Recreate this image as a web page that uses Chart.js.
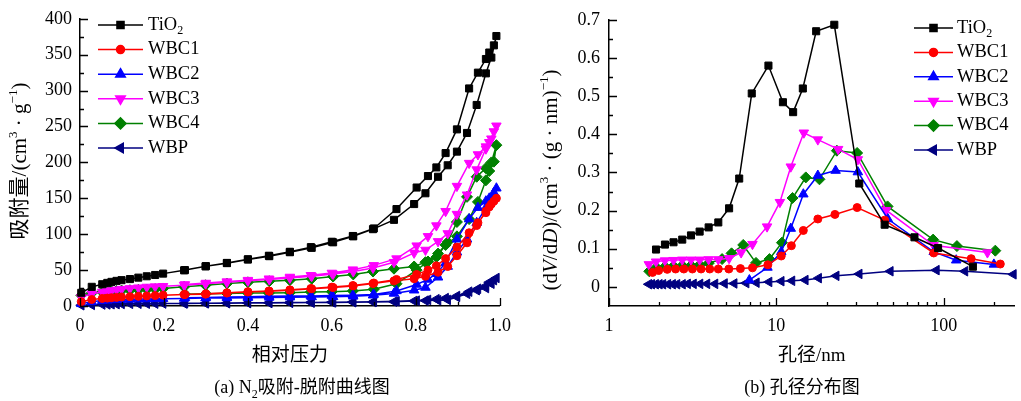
<!DOCTYPE html>
<html>
<head>
<meta charset="utf-8">
<script src="https://cdn.jsdelivr.net/npm/chart.js@4.4.1/dist/chart.umd.min.js"></script>
<style>
html, body { margin: 0; padding: 0; background: #fff; }
#wrap { position: relative; width: 1021px; height: 401px; overflow: hidden; }
#boxA { position: absolute; left: 0; top: 0; }
#boxB { position: absolute; left: 520px; top: 0; }
.cap { position: absolute; top: 377px; font: 18px "Liberation Serif", "Noto Sans CJK SC", serif;
       line-height: 20px; white-space: nowrap; transform: translateX(-50%); color: #000; }
.cap .sub { font-size: 12px; position: relative; top: 5px; }
</style>
</head>
<body>
<div id="wrap">
  <div id="boxA"><canvas id="chartA" width="520" height="401"></canvas></div>
  <div id="boxB"><canvas id="chartB" width="501" height="401"></canvas></div>
  <div class="cap" style="left:302px">(a) N<span class="sub">2</span>吸附-脱附曲线图</div>
  <div class="cap" style="left:802px">(b) 孔径分布图</div>
</div>
<script>
// ---------- (a) N2 吸附-脱附 ----------
const P_ADS = [0.003, 0.028, 0.053, 0.065, 0.075, 0.087, 0.099, 0.119, 0.139, 0.159, 0.179, 0.198, 0.248, 0.299,
               0.35, 0.4, 0.451, 0.5, 0.552, 0.603, 0.651, 0.698, 0.748, 0.796, 0.823, 0.853, 0.876, 0.898,
               0.922, 0.945, 0.967, 0.98, 0.992];
const P_DES = [0.986, 0.975, 0.967, 0.948, 0.927, 0.898, 0.871, 0.849, 0.829, 0.802, 0.754, 0.7, 0.65, 0.6,
               0.55, 0.5, 0.45, 0.4, 0.35, 0.3, 0.25];

const TIO2_ADS = [18.4, 26.7, 30.3, 32.2, 33.6, 35, 36, 37.5, 39.5, 41.4, 43.2, 45.1, 49.7, 55.2, 59.7, 64.8, 69.4,
                  74.9, 81, 88.7, 97, 107, 120, 142, 157, 180, 196, 215, 241, 280, 324, 346, 376];
const TIO2_DES = [363, 353, 344, 325, 303, 246, 213, 193, 181, 165, 135, 108, 97.5, 89.5, 82, 75.5, 70, 65, 60, 55.5, 50];
const WBC1_ADS = [6, 9, 10.5, 11, 11.5, 12, 12.5, 13, 13.5, 14, 14.5, 15, 16, 16.5, 18, 19.5, 20.5, 22, 24, 25.8,
                  28, 31.3, 35, 38, 41.4, 47, 55, 70, 88, 112, 132, 142, 150];
const WBC1_DES = [146, 138, 130, 116, 102, 82, 66, 56, 50, 44, 37, 32, 28.5, 26.3, 24.4, 22.5, 21, 20, 18.5, 17, 16];
const WBC2_ADS = [3, 6, 7.5, 8, 8.5, 8.8, 9, 9.3, 9.6, 9.8, 10, 10.2, 10.5, 11, 11.3, 11.6, 12, 12.3, 12.6, 12.8,
                  13.5, 15, 17.5, 22, 25.8, 40, 55, 75, 93, 116, 137, 150, 164];
const WBC2_DES = [158, 150, 146, 137, 121, 93, 60, 45, 37, 30, 21, 16, 15, 14.5, 14, 13.8, 13.5, 13, 12.5, 12, 11.5];
const WBC3_ADS = [12, 17, 19.5, 20.5, 21.5, 22.5, 23.5, 24.5, 25.5, 26.5, 27, 27.5, 29, 31, 33, 35, 37, 39, 41.5,
                  44.5, 48, 53, 61, 74, 78, 90, 101, 128, 155, 190, 219, 233, 251];
const WBC3_DES = [243, 228, 222, 211, 199, 167, 132, 112, 97, 84, 66, 56.6, 50.6, 46, 42.8, 40.4, 38, 36, 34, 32, 30];
const WBC4_ADS = [15, 18, 19.5, 20, 20.5, 21, 21.5, 22, 22.5, 23, 23.5, 24.4, 26.7, 29, 31.3, 33, 34.5, 36, 38, 41,
                  44, 48, 52, 55, 61, 73, 89, 117, 152, 180, 192, 200, 224];
const WBC4_DES = [201, 188, 175, 145, 121, 97, 85, 68, 62, 50, 31, 23.4, 21, 20, 19.5, 18.5, 18, 18, 17.5, 17, 16.5];
const WBP_ADS = [1, 1.5, 2, 2.2, 2.4, 2.6, 2.8, 3, 3.1, 3.2, 3.3, 3.4, 3.5, 3.7, 3.9, 4.1, 4.3, 4.5, 4.8, 5, 5.3,
                 5.6, 6, 7, 7.5, 8, 8.5, 12.5, 17, 22, 25, 31, 39];
const WBP_DES = [36, 33, 28, 24, 20, 14, 11, 9.5, 8.5, 7.5, 6.5, 6, 5.6, 5.3, 5, 4.8, 4.6, 4.4, 4.2, 4, 3.8];

// ---------- (b) 孔径分布 ----------
const TIO2_D = [1.91, 2.16, 2.43, 2.74, 3.09, 3.48, 3.94, 4.5, 5.22, 6.0, 7.13, 8.97, 10.95, 12.6, 14.4, 17.3, 22.2,
                31.3, 44.4, 66.9, 92.6, 149.5];
const TIO2_PSD = [0.098, 0.111, 0.117, 0.124, 0.135, 0.145, 0.156, 0.169, 0.206, 0.284, 0.507, 0.58, 0.484, 0.458,
                  0.52, 0.67, 0.687, 0.271, 0.163, 0.13, 0.102, 0.053];
const WBC1_D = [1.82, 1.98, 2.23, 2.5, 2.8, 3.15, 3.55, 4.0, 4.5, 5.2, 6.1, 7.2, 8.9, 10.7, 12.3, 14.5, 17.7, 22.4,
                30.4, 44.4, 87.2, 146, 218];
const WBC1_PSD = [0.038, 0.043, 0.046, 0.047, 0.047, 0.047, 0.047, 0.047, 0.047, 0.047, 0.048, 0.05, 0.058, 0.081,
                  0.108, 0.148, 0.178, 0.19, 0.208, 0.175, 0.089, 0.074, 0.06];
const WBC2_D = [6.9, 8.85, 10.7, 12.2, 14.5, 17.7, 22.6, 30.7, 46.4, 87.2, 118.8, 199.6];
const WBC2_PSD = [0.018, 0.051, 0.092, 0.153, 0.243, 0.292, 0.305, 0.301, 0.178, 0.092, 0.07, 0.059];
const WBC3_D = [1.73, 1.91, 2.16, 2.43, 2.74, 3.09, 3.48, 3.94, 4.5, 5.22, 6.16, 7.2, 8.8, 10.5, 12.2, 14.6, 17.7,
                23.4, 30.7, 45.3, 87, 182.6];
const WBC3_PSD = [0.059, 0.066, 0.069, 0.07, 0.071, 0.071, 0.071, 0.072, 0.072, 0.075, 0.09, 0.112, 0.158, 0.222,
                  0.315, 0.404, 0.386, 0.361, 0.334, 0.201, 0.109, 0.09];
const WBC4_D = [1.74, 1.92, 2.16, 2.43, 2.74, 3.09, 3.48, 3.94, 4.74, 5.4, 6.34, 7.56, 9.1, 10.8, 12.5, 15.0, 18.1,
                23.0, 30.4, 46.2, 86.5, 120, 203.5];
const WBC4_PSD = [0.041, 0.051, 0.053, 0.055, 0.056, 0.056, 0.058, 0.062, 0.073, 0.088, 0.11, 0.063, 0.073, 0.116,
                  0.233, 0.287, 0.282, 0.357, 0.351, 0.211, 0.124, 0.107, 0.095];
const WBP_D = [1.73, 1.8, 1.9, 2.0, 2.1, 2.25, 2.4, 2.55, 2.75, 2.95, 3.2, 3.5, 3.85, 4.3, 4.9, 5.6, 6.6, 7.6, 9.05,
               10.7, 12.4, 14.9, 17.9, 22.8, 31.3, 48, 90.5, 134, 261];
const WBP_PSD = [0.007, 0.007, 0.007, 0.007, 0.007, 0.007, 0.007, 0.007, 0.007, 0.008, 0.008, 0.008, 0.008, 0.008,
                 0.009, 0.009, 0.01, 0.011, 0.013, 0.015, 0.016, 0.018, 0.023, 0.029, 0.034, 0.041, 0.044, 0.041, 0.033];

// ---------- ticks ----------
const A_X_TICKS = [0, 0.2, 0.4, 0.6, 0.8, 1.0];
const A_X_MINOR = [0.1, 0.3, 0.5, 0.7, 0.9];
const A_Y_TICKS = [0, 50, 100, 150, 200, 250, 300, 350, 400];
const A_Y_MINOR = [25, 75, 125, 175, 225, 275, 325, 375];
const B_X_TICKS = [1, 10, 100];
const B_X_MINOR = [2, 3, 4, 5, 6, 7, 8, 9, 20, 30, 40, 50, 60, 70, 80, 90, 200];
const B_Y_TICKS = [0, 0.1, 0.2, 0.3, 0.4, 0.5, 0.6, 0.7];
const B_Y_MINOR = [0.05, 0.15, 0.25, 0.35, 0.45, 0.55, 0.65];

const NAMES = ["TiO₂", "WBC1", "WBC2", "WBC3", "WBC4", "WBP"];
const COLORS = ["#000000", "#FF0000", "#0000FF", "#FF00FF", "#008000", "#000080"];
const MARKS = [
    { pointStyle: "rect", radius: 5, rotation: 0 },
    { pointStyle: "circle", radius: 4, rotation: 0 },
    { pointStyle: "triangle", radius: 5.5, rotation: 0 },
    { pointStyle: "triangle", radius: 5.5, rotation: 180 },
    { pointStyle: "rectRot", radius: 5.5, rotation: 0 },
    { pointStyle: "triangle", radius: 5.5, rotation: -90 }
];

const FONT = '"Liberation Serif", "Noto Sans CJK SC", serif';
Chart.defaults.font.family = FONT;
Chart.defaults.font.size = 18;
Chart.defaults.color = "#000";

function pairs(xs, ys) {
    return xs.map((x, i) => ({ x: x, y: ys[i] }));
}

function makeSets(list) {
    return list.map((pts, i) => ({
        label: NAMES[i],
        data: pts,
        showLine: true,
        borderColor: COLORS[i],
        backgroundColor: COLORS[i],
        borderWidth: 1.5,
        pointStyle: MARKS[i].pointStyle,
        pointRadius: MARKS[i].radius,
        pointRotation: MARKS[i].rotation,
        pointBorderWidth: 1,
        clip: false
    }));
}

// 内向刻度
const innerTicks = {
    id: "innerTicks",
    afterDraw(chart, args, o) {
        const { ctx, chartArea: a, scales: { x, y } } = chart;
        ctx.save();
        ctx.strokeStyle = "#000";
        ctx.lineWidth = 1.3;
        ctx.beginPath();
        const xt = (vals, len) => vals.forEach(v => {
            const px = Math.round(x.getPixelForValue(v)) + 0.5;
            ctx.moveTo(px, a.bottom);
            ctx.lineTo(px, a.bottom - len);
        });
        const yt = (vals, len) => vals.forEach(v => {
            const py = Math.round(y.getPixelForValue(v)) + 0.5;
            ctx.moveTo(a.left, py);
            ctx.lineTo(a.left + len, py);
        });
        xt(o.xMajor, 8); xt(o.xMinor, 4);
        yt(o.yMajor, 8); yt(o.yMinor, 4);
        ctx.stroke();
        ctx.restore();
    }
};

// 图例
const boxLegend = {
    id: "boxLegend",
    afterDraw(chart, args, o) {
        const ctx = chart.ctx;
        ctx.save();
        chart.data.datasets.forEach((ds, i) => {
            const yy = o.y0 + i * o.dy;
            ctx.strokeStyle = ds.borderColor;
            ctx.fillStyle = ds.backgroundColor;
            ctx.lineWidth = 1.5;
            ctx.beginPath();
            ctx.moveTo(o.x0, yy);
            ctx.lineTo(o.x1, yy);
            ctx.stroke();
            Chart.helpers.drawPoint(ctx, {
                pointStyle: ds.pointStyle, rotation: ds.pointRotation,
                radius: ds.pointRadius, borderWidth: 1
            }, (o.x0 + o.x1) / 2, yy);
            ctx.fillStyle = "#000";
            ctx.textBaseline = "middle";
            ctx.font = "18.5px " + FONT;
            const parts = ds.label.split("₂");
            ctx.fillText(parts[0], o.xt, yy);
            if (parts.length > 1) {
                const w = ctx.measureText(parts[0]).width;
                ctx.font = "12px " + FONT;
                ctx.fillText("2", o.xt + w, yy + 6);
            }
        });
        ctx.restore();
    }
};

// 纵坐标标题（上标、斜体）
const richTitle = {
    id: "richTitle",
    afterDraw(chart, args, o) {
        const ctx = chart.ctx;
        const size = o.size;
        const fontOf = s => (s.i ? "italic " : "") + (s.sup ? Math.round(size * 0.62) : size) + "px " + FONT;
        let w = 0;
        o.segs.forEach(s => { ctx.font = fontOf(s); s.w = ctx.measureText(s.t).width; w += s.w; });
        ctx.save();
        ctx.translate(o.x, o.y);
        ctx.rotate(-Math.PI / 2);
        ctx.fillStyle = "#000";
        ctx.textBaseline = "middle";
        let cx = -w / 2;
        o.segs.forEach(s => {
            ctx.font = fontOf(s);
            ctx.fillText(s.t, cx, s.sup ? -size * 0.32 : 0);
            cx += s.w;
        });
        ctx.restore();
    }
};

const axisBorder = { display: true, color: "#000", width: 1.5 };
const noGrid = { display: false, drawTicks: false };

// ==============================
// (a) 吸附-脱附曲线
// ==============================
const loops = [
    [TIO2_ADS, TIO2_DES], [WBC1_ADS, WBC1_DES], [WBC2_ADS, WBC2_DES],
    [WBC3_ADS, WBC3_DES], [WBC4_ADS, WBC4_DES], [WBP_ADS, WBP_DES]
].map(([ads, des]) => pairs(P_ADS, ads).concat(pairs(P_DES, des)));

new Chart(document.getElementById("chartA"), {
    type: "scatter",
    data: { datasets: makeSets(loops) },
    options: {
        responsive: false,
        animation: false,
        layout: { padding: { top: 16, right: 20, left: 0, bottom: 0 } },
        plugins: {
            legend: { display: false },
            tooltip: { enabled: false },
            innerTicks: { xMajor: A_X_TICKS, xMinor: A_X_MINOR, yMajor: A_Y_TICKS, yMinor: A_Y_MINOR },
            boxLegend: { x0: 98, x1: 143, xt: 148, y0: 25, dy: 24.6 },
            richTitle: {
                x: 20, y: 161, size: 21,
                segs: [{ t: "吸附量/(cm" }, { t: "3", sup: 1 }, { t: " · g" }, { t: "−1", sup: 1 }, { t: ")" }]
            }
        },
        scales: {
            x: {
                type: "linear", min: 0, max: 1,
                afterBuildTicks: s => { s.ticks = A_X_TICKS.map(v => ({ value: v })); },
                afterFit: s => { s.height = 95; },
                ticks: { padding: 9, maxRotation: 0, autoSkip: false,
                         callback: v => v === 0 ? "0" : v.toFixed(1) },
                grid: noGrid,
                border: axisBorder,
                title: { display: true, text: "相对压力", font: { size: 19 }, padding: { top: 0, bottom: 33.6 } }
            },
            y: {
                type: "linear", min: 0, max: 400,
                afterBuildTicks: s => { s.ticks = A_Y_TICKS.map(v => ({ value: v })); },
                afterFit: s => { s.width = 80; },
                ticks: { padding: 8 },
                grid: noGrid,
                border: axisBorder
            }
        }
    },
    plugins: [innerTicks, boxLegend, richTitle]
});

// ==============================
// (b) 孔径分布
// ==============================
const psd = [
    pairs(TIO2_D, TIO2_PSD), pairs(WBC1_D, WBC1_PSD), pairs(WBC2_D, WBC2_PSD),
    pairs(WBC3_D, WBC3_PSD), pairs(WBC4_D, WBC4_PSD), pairs(WBP_D, WBP_PSD)
];

new Chart(document.getElementById("chartB"), {
    type: "scatter",
    data: { datasets: makeSets(psd) },
    options: {
        responsive: false,
        animation: false,
        layout: { padding: { top: 17, right: 0, left: 0, bottom: 0 } },
        plugins: {
            legend: { display: false },
            tooltip: { enabled: false },
            innerTicks: { xMajor: B_X_TICKS, xMinor: B_X_MINOR, yMajor: B_Y_TICKS, yMinor: B_Y_MINOR },
            boxLegend: { x0: 394, x1: 433, xt: 437, y0: 28, dy: 24.4 },
            richTitle: {
                x: 31, y: 180, size: 21,
                segs: [{ t: "(d" }, { t: "V", i: 1 }, { t: "/d" }, { t: "D", i: 1 }, { t: ")/(cm" },
                       { t: "3", sup: 1 }, { t: " · (g · nm)" }, { t: "−1", sup: 1 }, { t: ")" }]
            }
        },
        scales: {
            x: {
                type: "logarithmic", min: 1, max: 265,
                afterBuildTicks: s => { s.ticks = B_X_TICKS.map(v => ({ value: v })); },
                afterFit: s => { s.height = 95; },
                ticks: { padding: 9, maxRotation: 0, autoSkip: false, callback: v => String(v) },
                grid: noGrid,
                border: axisBorder,
                title: { display: true, text: "孔径/nm", font: { size: 19 }, padding: { top: 0, bottom: 33.6 } }
            },
            y: {
                type: "linear", min: -0.05, max: 0.7,
                afterBuildTicks: s => { s.ticks = B_Y_TICKS.map(v => ({ value: v })); },
                afterFit: s => { s.width = 89; },
                ticks: { padding: 9, callback: v => v === 0 ? "0" : v.toFixed(1) },
                grid: noGrid,
                border: axisBorder
            }
        }
    },
    plugins: [innerTicks, boxLegend, richTitle]
});
</script>
</body>
</html>
